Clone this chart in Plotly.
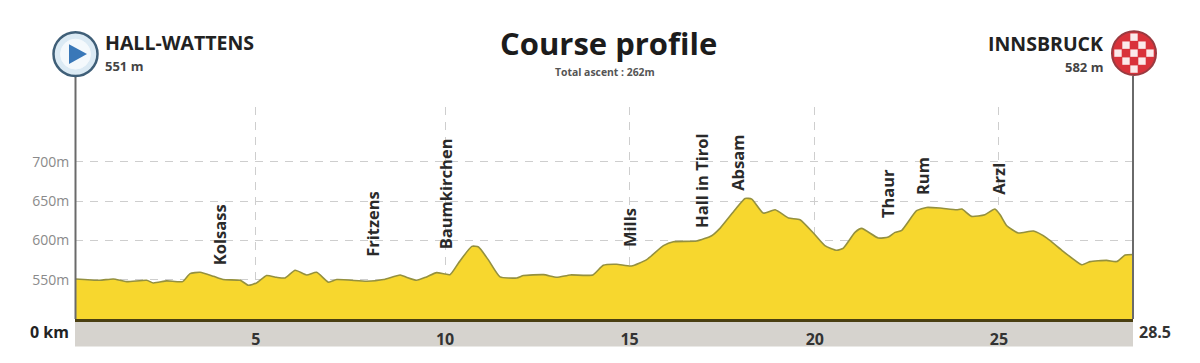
import plotly.graph_objects as go

# Course profile
km = [0.00,0.67,1.03,1.39,1.93,2.11,2.47,2.90,3.10,3.37,3.73,3.99,4.45,4.67,4.89,5.16,5.43,5.66,5.93,6.24,6.51,6.83,7.05,7.86,8.31,8.76,
      8.93,9.20,9.47,9.74,10.10,10.33,10.69,10.87,11.13,11.45,11.90,12.08,12.62,12.98,13.34,13.95,14.23,14.59,14.99,15.40,15.85,16.12,16.75,17.15,17.38,17.78,18.05,18.23,18.54,18.86,19.22,19.53,
      19.89,20.20,20.52,20.70,21.01,21.19,21.64,21.91,22.09,22.27,22.67,22.94,23.30,23.75,23.89,24.15,24.51,24.78,24.92,25.10,25.41,25.82,26.18,26.62,27.12,27.34,27.79,28.06,28.29,28.50]
elevation = [551.0,549.3,551.0,547.6,549.3,545.9,548.5,547.6,557.8,559.5,554.4,550.2,549.3,543.0,545.9,555.3,553.1,552.3,562.0,556.1,559.5,546.8,550.2,548.1,550.2,556.0,
             553.1,549.3,553.6,559.1,556.5,571.4,592.5,591.7,575.6,553.6,552.3,555.3,556.5,553.1,556.1,556.1,568.4,569.7,567.5,575.6,593.4,598.5,599.3,606.1,615.8,639.1,653.5,652.7,634.9,639.1,628.5,626.5,
             609.5,593.4,587.5,590.4,610.3,615.4,603.1,604.4,610.3,612.9,637.9,642.1,641.3,639.1,640.0,630.7,632.8,640.0,632.8,618.8,609.5,612.0,603.1,586.2,569.2,573.1,574.7,573.1,581.5,582.2]

km_ticks = [4.87, 9.97, 14.94, 19.93, 24.89]
km_labels = ["<b>5</b>", "<b>10</b>", "<b>15</b>", "<b>20</b>", "<b>25</b>"]
alt_ticks = [550, 600, 650, 700]
alt_labels = ["550m", "600m", "650m", "700m"]

towns = ["Kolsass", "Fritzens", "Baumkirchen", "Mills", "Hall in Tirol", "Absam", "Thaur", "Rum", "Arzl"]
town_km = [3.88, 8.03, 9.97, 14.92, 16.87, 17.86, 21.87, 22.85, 24.89]
town_base = [566.7, 578.1, 587.0, 590.9, 615.0, 662.0, 627.7, 656.9, 656.9]

W, H = 1200, 363
L, R, T, B = 75, 1133, 107, 319.5
FONT = "Open Sans"
fx = lambda px: (px - L) / (R - L)
fy = lambda py: (B - py) / (B - T)

fig = go.Figure(go.Scatter(
    x=km, y=elevation, mode="lines", fill="tozeroy", fillcolor="#f7d72e",
    line=dict(color="#94903f", width=1.6, shape="spline", smoothing=0.5), hoverinfo="skip", showlegend=False))

shapes = [
    dict(type="rect", xref="paper", yref="paper", x0=0, x1=1, y0=fy(347), y1=0,
         fillcolor="#d6d3ce", line_width=0, layer="below"),
]
for px in (L + 0.5, R):
    shapes.append(dict(type="line", xref="paper", yref="paper", x0=fx(px), x1=fx(px), y0=0, y1=fy(76),
                       line=dict(color="#6a6a6a", width=2)))


def circle(cx, cy, r, fill, line, width):
    return dict(type="circle", xref="paper", yref="paper", x0=fx(cx - r), x1=fx(cx + r),
                y0=fy(cy + r), y1=fy(cy - r), fillcolor=fill, line=dict(color=line, width=width))


# start marker
shapes.append(circle(75.5, 54, 22, "#dbeaf4", "#3f5f78", 2.5))
shapes.append(circle(75.5, 54, 15, "#f4f9fc", "#f4f9fc", 1))
shapes.append(dict(type="path", xref="paper", yref="paper",
                   path=f"M {fx(69)} {fy(44)} L {fx(87)} {fy(54)} L {fx(69)} {fy(64)} Z",
                   fillcolor="#3a78b8", line_width=0))
# finish marker
shapes.append(circle(1134, 53, 22, "#d9323a", "#9a3a40", 2))
for dx, dy in [(0,-16),(-8,-8),(8,-8),(-16,0),(0,0),(16,0),(-8,8),(8,8),(0,16)]:
    shapes.append(dict(type="rect", xref="paper", yref="paper",
                       x0=fx(1134 + dx - 3.7), x1=fx(1134 + dx + 3.7),
                       y0=fy(53 + dy + 3.7), y1=fy(53 + dy - 3.7),
                       fillcolor="#fbeaea", line_width=0))

ann = []


def text(s, px, py, size, color="#1c1c1c", anchor="center", bold=True):
    ann.append(dict(text=f"<b>{s}</b>" if bold else s, xref="paper", yref="paper", x=fx(px), y=fy(py),
                    xanchor=anchor, yanchor="middle", showarrow=False,
                    font=dict(family=FONT, size=size, color=color)))


text("Course profile", 608, 43, 31)
text("Total ascent : 262m", 605, 71.5, 10.4, "#555555")
text("HALL-WATTENS", 103, 42.5, 19.5, "#222222", "left")
text("551 m", 103, 66, 13, "#444444", "left")
text("INNSBRUCK", 1105, 43.5, 19.5, "#222222", "right")
text("582 m", 1105, 66.5, 13, "#444444", "right")
text("0 km", 71, 333, 16, "#222222", "right")
text("28.5", 1137, 333, 16, "#333333", "left")

for name, k, m in zip(towns, town_km, town_base):
    ann.append(dict(text=f"<b>{name}</b>", x=k, y=m, xref="x", yref="y", textangle=-90,
                    xanchor="center", yanchor="bottom", showarrow=False, borderpad=0,
                    font=dict(family=FONT, size=16.5, color="#2a2a2a")))

fig.update_layout(
    width=W, height=H, autosize=False,
    margin=dict(l=L, r=W - R, t=T, b=H - B, pad=0),
    paper_bgcolor="white", plot_bgcolor="white",
    shapes=shapes, annotations=ann,
    xaxis=dict(range=[0, 28.5], tickvals=km_ticks, ticktext=km_labels,
               showgrid=True, gridcolor="#cecece", griddash="8px,7px", gridwidth=1.4,
               zeroline=False, showline=True, linecolor="#4a3f12", linewidth=3,
               ticks="outside", ticklen=4, tickcolor="rgba(0,0,0,0)",
               tickfont=dict(family=FONT, size=16, color="#333333")),
    yaxis=dict(range=[500, 770], tickvals=alt_ticks, ticktext=alt_labels,
               showgrid=True, gridcolor="#cecece", griddash="8px,7px", gridwidth=1.4,
               zeroline=False, showline=False,
               ticks="outside", ticklen=2, tickcolor="rgba(0,0,0,0)",
               tickfont=dict(family=FONT, size=14, color="#8a8a8a")),
)

fig.write_html("out.html", config=dict(displayModeBar=False),
               post_script="document.body.style.margin='0';document.body.style.overflow='hidden';")
